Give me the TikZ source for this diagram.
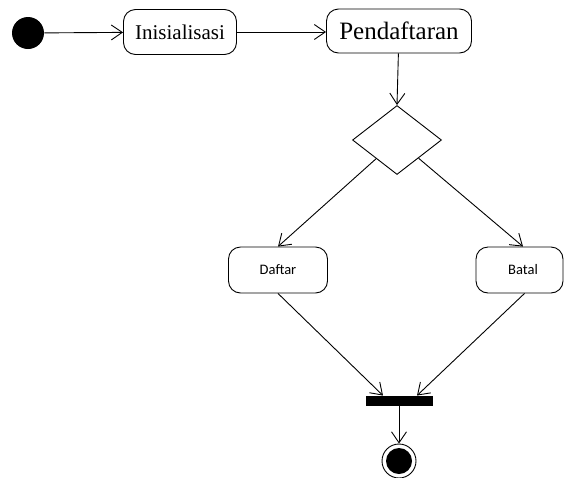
\documentclass[tikz,border=0pt]{standalone}
\usepackage{fontspec}
\setmainfont{Liberation Serif}
\newfontfamily\calfont{Carlito}
\usetikzlibrary{arrows.meta,shapes.geometric}

\begin{document}
\begin{tikzpicture}[x=1pt, y=-1pt, line width=0.9pt,
    act/.style={rectangle, rounded corners=12pt, draw, inner sep=0pt, minimum height=45pt},
    flow/.style={-{Straight Barb[length=11pt, width=15pt, line width=0.9pt]}}]
    \useasboundingbox (0,0) rectangle (564,477);

    \node[circle, fill=black, minimum size=32pt, inner sep=0pt] (start) at (28,33) {};
    \node[act, minimum width=113pt] (init) at (180,32) {\fontsize{21}{24}\selectfont Inisialisasi};
    \node[act, minimum width=145pt, minimum height=44pt] (daftarsiswa) at (399,31) {\fontsize{25}{28}\selectfont Pendaftaran};
    \node[diamond, draw, inner sep=0pt, minimum width=89pt, minimum height=69pt] (pilih) at (397,140) {};
    \node[act, minimum width=99pt, minimum height=46pt] (daftar) at (278,270) {\calfont\fontsize{14.5}{16}\selectfont Daftar};
    \node[act, minimum width=87pt, minimum height=46pt] (batal) at (519.5,270) {\calfont\fontsize{14.5}{16}\selectfont\hspace{7pt}Batal};
    \node[rectangle, fill=black, minimum width=67pt, minimum height=10pt, inner sep=0pt] (gabung) at (399,401) {};
    \node[circle, draw, minimum size=34pt, inner sep=0pt,
      path picture={\fill (path picture bounding box.center) circle (13pt);}] (akhir) at (399,461) {};

    % alur aktivitas
    \draw[flow] (start) -- (init);
    \draw[flow] (init) -- (init -| daftarsiswa.west);
    \draw[flow] (daftarsiswa) -- (pilih.north);
    \draw[flow] (pilih) -- (daftar.north);
    \draw[flow] (pilih) -- ([xshift=3.5pt]batal.north);
    \draw[flow] (daftar.south) -- ([xshift=-16pt]gabung.north);
    \draw[flow] ([xshift=5pt]batal.south) -- ([xshift=18pt]gabung.north);
    \draw[flow] (gabung) -- (akhir);
  \end{tikzpicture}
\end{document}
